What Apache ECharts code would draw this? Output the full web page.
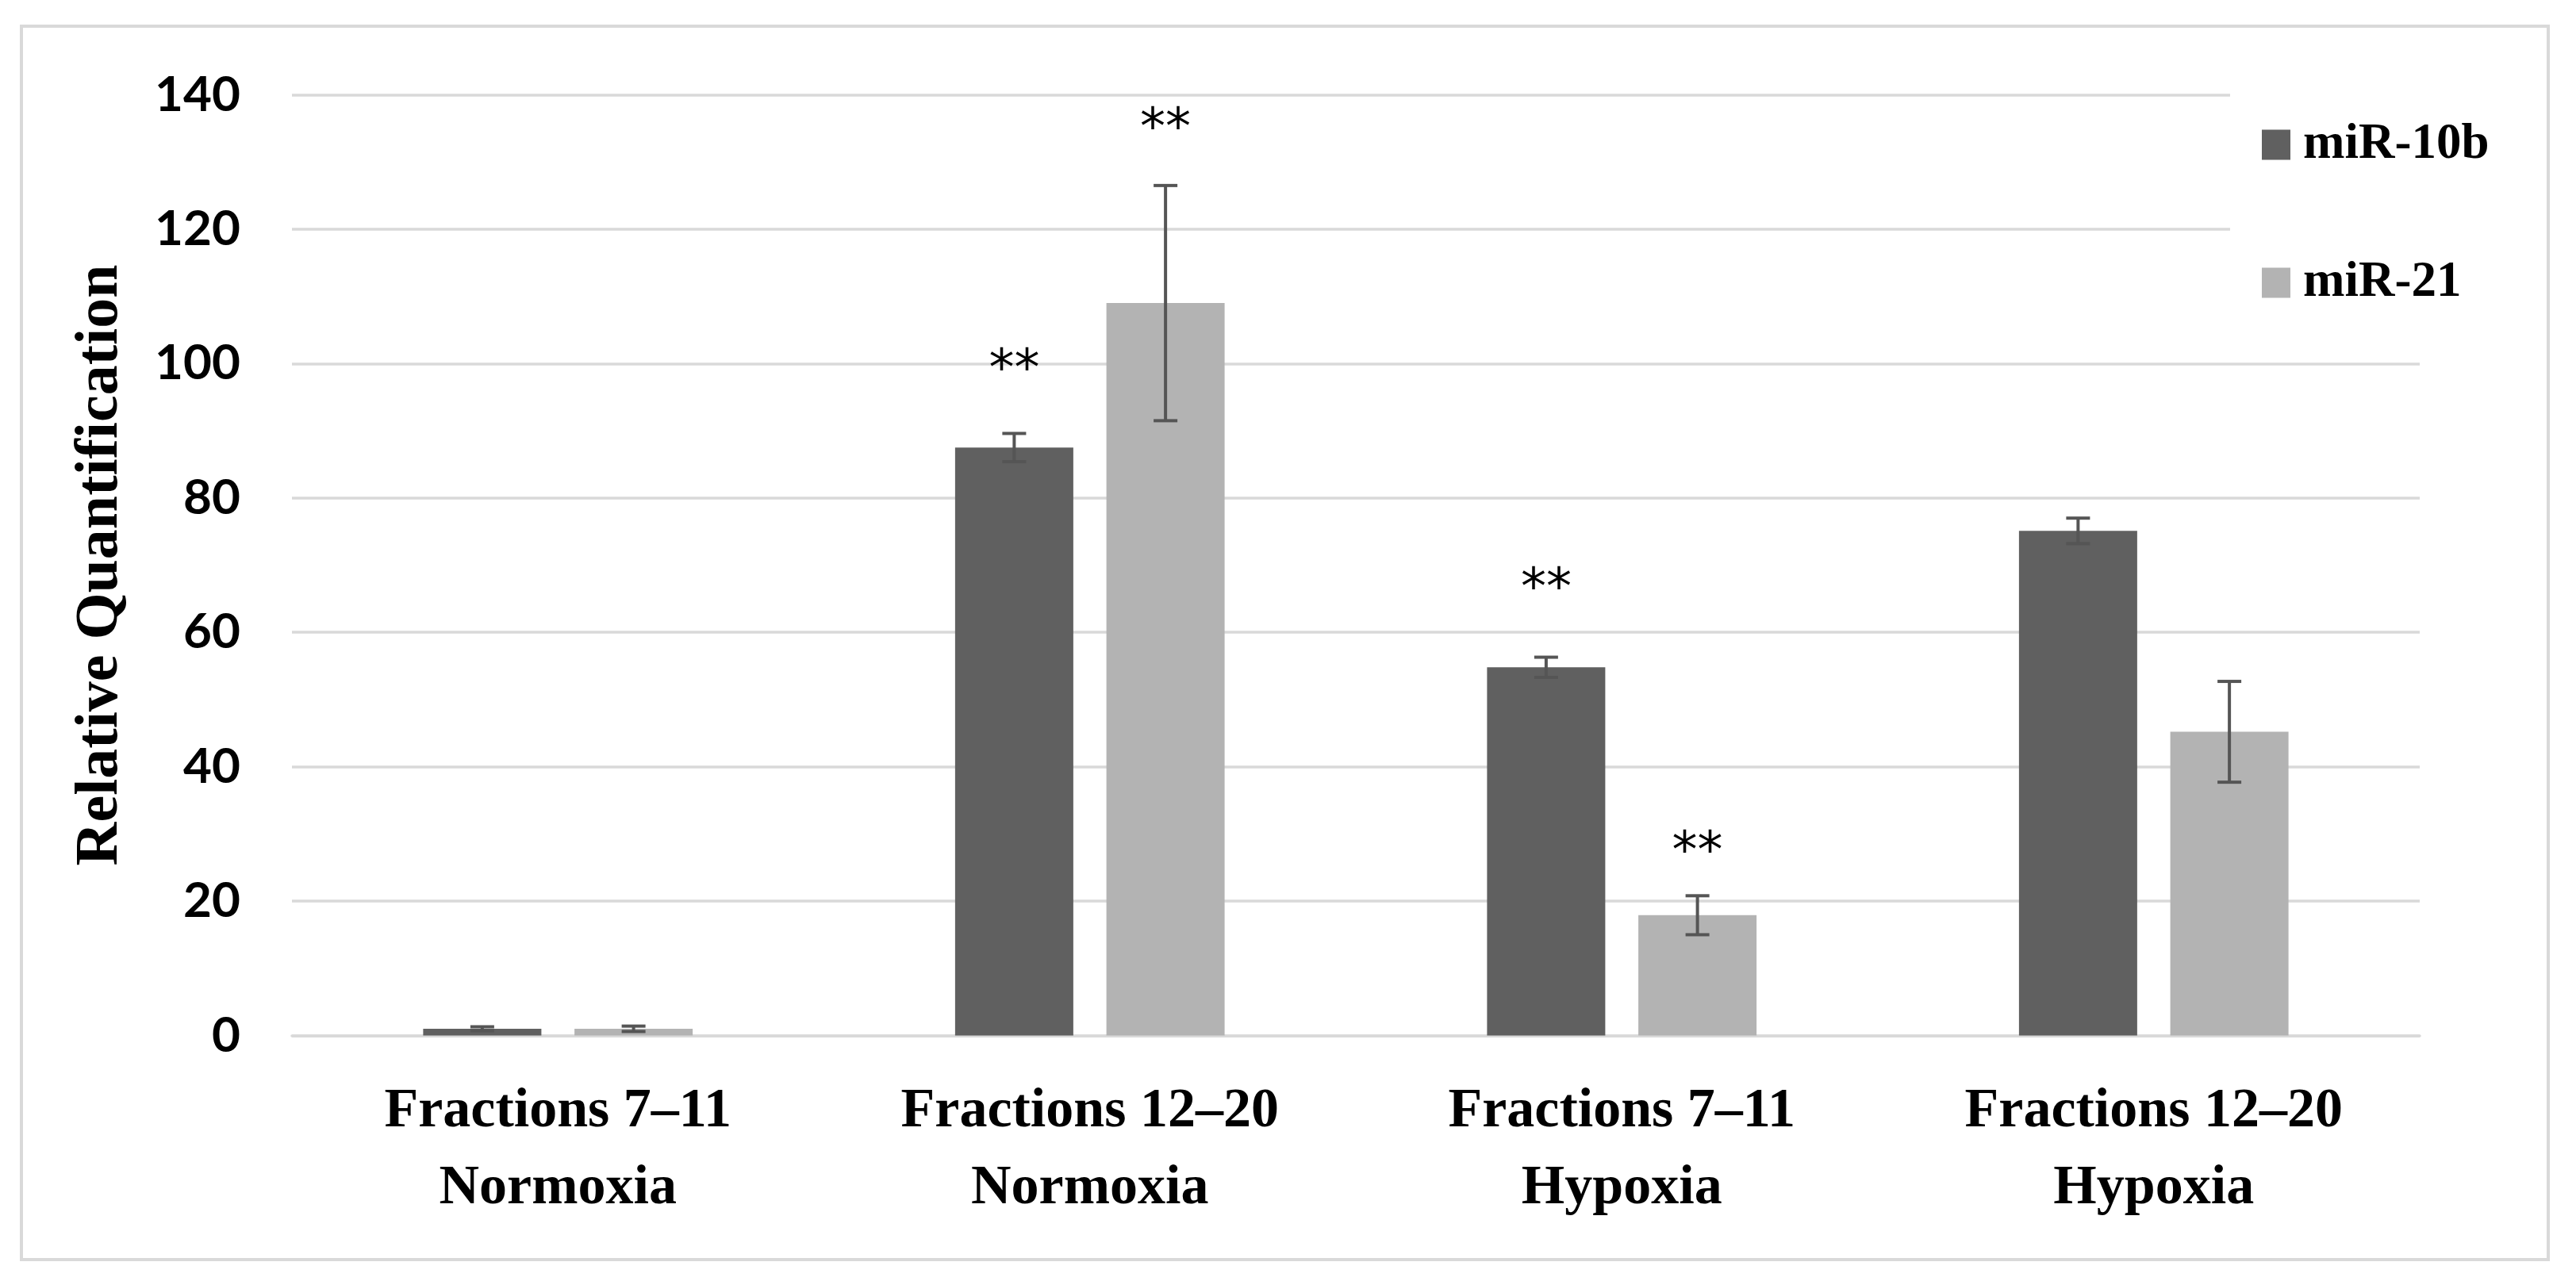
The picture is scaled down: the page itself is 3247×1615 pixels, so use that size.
<!DOCTYPE html>
<html>
<head>
<meta charset="utf-8">
<script src="https://cdn.jsdelivr.net/npm/echarts@6/dist/echarts.min.js"></script>
<style>
html,body{margin:0;padding:0;background:#fff;}
#chart{width:3247px;height:1615px;}
</style>
</head>
<body>
<div id="chart"></div>
<script>
// ---- data ----
const categories = ['Fractions 7\u201311\nNormoxia', 'Fractions 12\u201320\nNormoxia', 'Fractions 7\u201311\nHypoxia', 'Fractions 12\u201320\nHypoxia'];
const seriesNames = ['miR-10b', 'miR-21'];
const miR10b = [1.0, 87.5, 54.8, 75.1];
const miR21 = [1.0, 109.0, 17.9, 45.2];
const err10b = [0.3, 2.1, 1.5, 1.9];
const err21 = [0.4, 17.5, 2.9, 7.5];
// height (axis value) at which the significance marks "**" sit
const sig10b = [null, 98.8, 66.2, null];
const sig21 = [null, 134.7, 27.0, null];
const yTicks = [0, 20, 40, 60, 80, 100, 120, 140];

// ---- styles ----
const DARK = '#606060';
const LIGHT = '#b3b3b3';
const ERR = '#555555';
const GRIDC = '#d9d9d9';
const SERIF = '"Liberation Serif", "Times New Roman", serif';
const SANSN = '"Liberation Sans Narrow", Lato, "Liberation Sans", sans-serif';
const BAR_W = 149;
const BAR_GAP = '28%';

const chart = echarts.init(document.getElementById('chart'));

function errSeries(idx, vals, errs, sigs) {
  return {
    type: 'custom',
    name: seriesNames[idx] + ' error',
    z: 5,
    data: vals.map((v, i) => [i, v - errs[i], v + errs[i]]),
    renderItem: function (params, api) {
      const xi = api.value(0);
      const lo = api.coord([xi, api.value(1)]);
      const hi = api.coord([xi, api.value(2)]);
      const layout = api.barLayout({ barWidth: BAR_W, barGap: BAR_GAP, count: 2 });
      const x = hi[0] + layout[idx].offsetCenter;
      const cap = 15;
      const st = { stroke: ERR, lineWidth: 4 };
      const children = [
        { type: 'line', shape: { x1: x, y1: hi[1], x2: x, y2: lo[1] }, style: st },
        { type: 'line', shape: { x1: x - cap, y1: hi[1], x2: x + cap, y2: hi[1] }, style: st },
        { type: 'line', shape: { x1: x - cap, y1: lo[1], x2: x + cap, y2: lo[1] }, style: st }
      ];
      const s = sigs[params.dataIndex];
      if (s != null) {
        const p = api.coord([xi, s]);
        children.push({
          type: 'text',
          style: { x: x, y: p[1], text: '**', fill: '#000', font: '64px "DejaVu Sans", sans-serif', align: 'center', verticalAlign: 'middle' }
        });
      }
      return { type: 'group', children: children };
    }
  };
}

const option = {
  backgroundColor: '#fff',
  animation: false,
  grid: { left: 368, right: 197, top: 119.5, bottom: 309.5, containLabel: false },
  legend: {
    orient: 'vertical',
    left: 2846,
    top: 146,
    itemWidth: 36,
    itemHeight: 38,
    itemGap: 111,
    icon: 'rect',
    z: 10,
    data: seriesNames,
    textStyle: { fontFamily: SERIF, fontWeight: 'bold', fontSize: 63, lineHeight: 62, color: '#000', padding: [0, 0, 0, 11] }
  },
  xAxis: {
    type: 'category',
    data: categories,
    axisLine: { show: true, lineStyle: { color: GRIDC, width: 3.5 } },
    axisTick: { show: false },
    axisLabel: { fontFamily: SERIF, fontWeight: 'bold', fontSize: 70, lineHeight: 97, color: '#000', margin: 48, interval: 0 }
  },
  yAxis: {
    type: 'value',
    min: yTicks[0],
    max: yTicks[yTicks.length - 1],
    interval: yTicks[1] - yTicks[0],
    name: 'Relative Quantification',
    nameLocation: 'middle',
    nameRotate: 90,
    nameGap: 203,
    nameTextStyle: { fontFamily: SERIF, fontWeight: 'bold', fontSize: 76, color: '#000' },
    axisLine: { show: false },
    axisTick: { show: false },
    axisLabel: { fontFamily: SANSN, fontWeight: 'bold', fontSize: 62, color: '#000', margin: 65 },
    splitLine: { show: true, lineStyle: { color: GRIDC, width: 3.5 } }
  },
  graphic: [
    { type: 'rect', z: 1, shape: { x: 2811, y: 95, width: 300, height: 220 }, style: { fill: '#fff' } },
    { type: 'rect', z: 20, shape: { x: 27, y: 33, width: 3185, height: 1555 }, style: { fill: 'none', stroke: GRIDC, lineWidth: 4 } }
  ],
  series: [
    { type: 'bar', name: seriesNames[0], data: miR10b, barWidth: BAR_W, barGap: BAR_GAP, itemStyle: { color: DARK } },
    { type: 'bar', name: seriesNames[1], data: miR21, barWidth: BAR_W, barGap: BAR_GAP, itemStyle: { color: LIGHT } },
    errSeries(0, miR10b, err10b, sig10b),
    errSeries(1, miR21, err21, sig21)
  ]
};
chart.setOption(option);
</script>
</body>
</html>
